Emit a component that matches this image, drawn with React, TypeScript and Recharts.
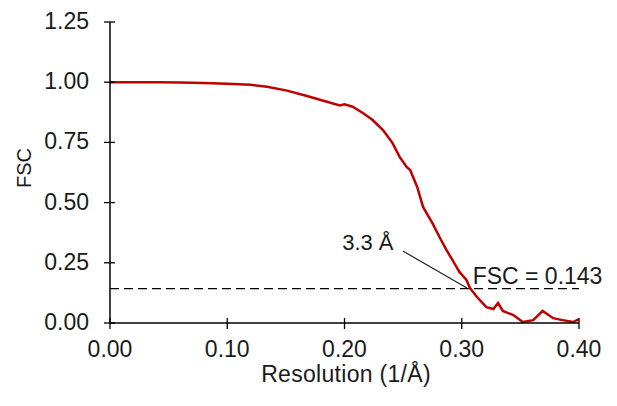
import React from 'react';
import { LineChart, Line, XAxis, YAxis, ReferenceLine, ReferenceDot } from 'recharts';

const resolution = [
  0, 0.02, 0.04, 0.06, 0.08, 0.1, 0.12, 0.134, 0.151, 0.168, 0.185, 0.196, 0.2, 0.207,
  0.216, 0.224, 0.233, 0.241, 0.247, 0.253, 0.256, 0.262, 0.267, 0.271, 0.275, 0.281,
  0.287, 0.292, 0.298, 0.304, 0.307, 0.313, 0.321, 0.327, 0.331, 0.335, 0.344, 0.352,
  0.361, 0.369, 0.378, 0.386, 0.395, 0.4,
];
const fscValues = [
  1.0, 1.0, 1.0, 0.999, 0.997, 0.994, 0.989, 0.981, 0.965, 0.943, 0.919, 0.903, 0.908, 0.898,
  0.871, 0.843, 0.8, 0.747, 0.69, 0.648, 0.635, 0.565, 0.482, 0.448, 0.415, 0.357,
  0.303, 0.262, 0.212, 0.179, 0.145, 0.108, 0.066, 0.058, 0.083, 0.05, 0.033, 0.004,
  0.012, 0.05, 0.02, 0.012, 0.004, 0.016,
];
const xTicks = [0, 0.1, 0.2, 0.3, 0.4];
const yTicks = [0, 0.25, 0.5, 0.75, 1.0, 1.25];
const threshold = 0.143;
const thresholdText = 'FSC = 0.143';
const resolutionText = '3.3 Å';
const connectorRes = [0.2498, 0.3044];
const connectorFsc = [0.299, 0.145];
const resolutionTextPos = [0.198, 0.303];
const thresholdTextPos = [0.3093, 0.162];
const xTitle = 'Resolution (1/Å)';
const yTitle = 'FSC';

const data = resolution.map((r, i) => ({ r, fsc: fscValues[i] }));

const FONT = '"Liberation Sans", Arial, sans-serif';
const TEXT = '#1a1a1a';

const XTick = (props: any) => {
  const { x, y, payload } = props;
  return (
    <g>
      <line x1={x} x2={x} y1={y - 5} y2={y + 6} stroke="#000" strokeWidth={1.3} />
      <text x={x} y={y + 34} textAnchor="middle" fontSize={23} fontFamily={FONT} fill={TEXT}>
        {Number(payload.value).toFixed(2)}
      </text>
    </g>
  );
};

const YTick = (props: any) => {
  const { x, y, payload } = props;
  return (
    <g>
      <line x1={x - 6} x2={x + 5} y1={y} y2={y} stroke="#000" strokeWidth={1.3} />
      <text x={x - 21} y={y + 7} textAnchor="end" fontSize={23} fontFamily={FONT} fill={TEXT}>
        {Number(payload.value).toFixed(2)}
      </text>
    </g>
  );
};

const textAt = (value: string, size: number) => (props: any) => {
  const vb = props.viewBox || {};
  return (
    <text x={vb.x} y={vb.y} fontSize={size} fontFamily={FONT} fill={TEXT}>
      {value}
    </text>
  );
};

export default function App() {
  return (
    <div style={{ position: 'absolute', left: 0, top: 0, background: '#fff' }}>
      <LineChart
        width={617}
        height={406}
        data={data}
        margin={{ top: 22, right: 38, bottom: 0, left: 0 }}
      >
        <XAxis
          dataKey="r"
          type="number"
          domain={[0, 0.4]}
          ticks={xTicks}
          interval={0}
          height={83}
          tickLine={false}
          tickSize={0}
          tickMargin={0}
          tick={<XTick />}
          axisLine={{ stroke: '#000', strokeWidth: 1.5 }}
          label={{
            content: () => (
              <text
                x={346}
                y={382}
                textAnchor="middle"
                fontSize={23}
                letterSpacing={0.3}
                fontFamily={FONT}
                fill={TEXT}
              >
                {xTitle}
              </text>
            ),
          }}
        />
        <YAxis
          type="number"
          domain={[0, 1.25]}
          ticks={yTicks}
          interval={0}
          width={110}
          tickLine={false}
          tickSize={0}
          tickMargin={0}
          tick={<YTick />}
          axisLine={{ stroke: '#000', strokeWidth: 1.5 }}
          label={{
            content: () => (
              <text
                transform="translate(31,168) rotate(-90)"
                textAnchor="middle"
                fontSize={20}
                fontFamily={FONT}
                fill={TEXT}
              >
                {yTitle}
              </text>
            ),
          }}
        />
        <ReferenceLine y={threshold} stroke="#000" strokeWidth={1.2} strokeDasharray="9 5" />
        <ReferenceLine
          segment={[
            { x: connectorRes[0], y: connectorFsc[0] },
            { x: connectorRes[1], y: connectorFsc[1] },
          ]}
          stroke="#222"
          strokeWidth={1.2}
        />
        <ReferenceDot
          x={resolutionTextPos[0]}
          y={resolutionTextPos[1]}
          r={0}
          fill="none"
          stroke="none"
          label={textAt(resolutionText, 22)}
        />
        <ReferenceDot
          x={thresholdTextPos[0]}
          y={thresholdTextPos[1]}
          r={0}
          fill="none"
          stroke="none"
          label={textAt(thresholdText, 23)}
        />
        <Line
          type="linear"
          dataKey="fsc"
          stroke="#C00000"
          strokeWidth={2.5}
          dot={false}
          isAnimationActive={false}
        />
      </LineChart>
    </div>
  );
}
